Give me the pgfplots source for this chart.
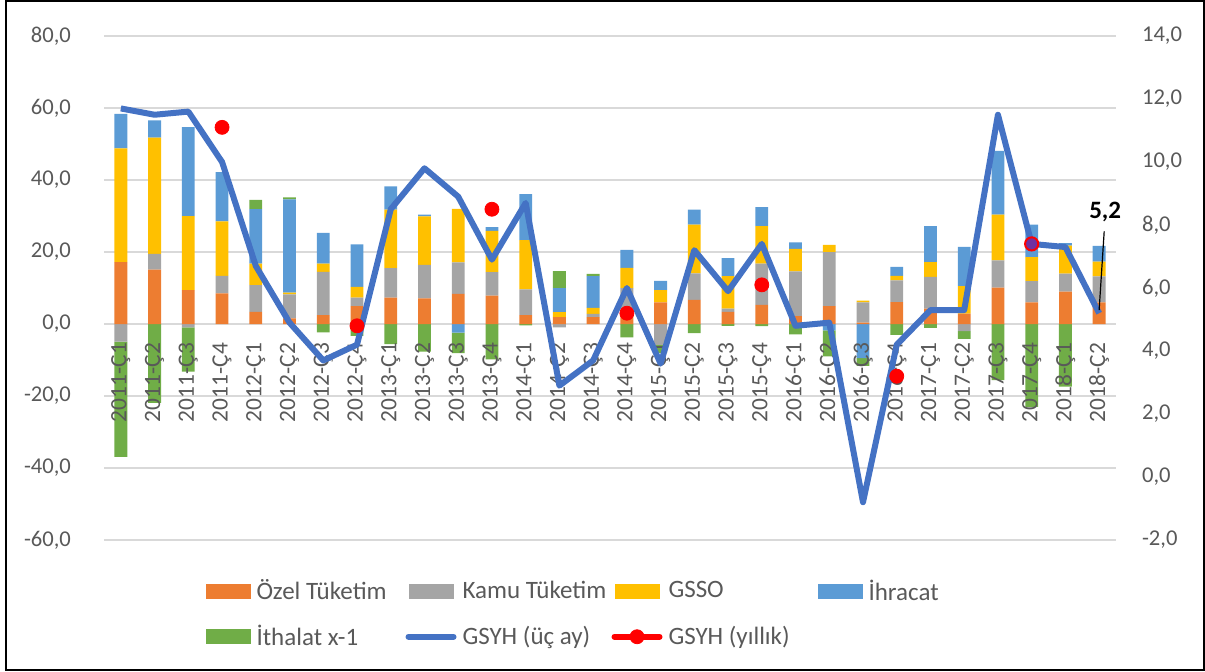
\documentclass[border=0pt]{standalone}
\usepackage{fontspec}
\setmainfont{Carlito}
\usepackage{pgfplots}
\usepackage{pgfplotstable}
\pgfplotsset{compat=1.18}
\definecolor{cOz}{HTML}{ED7D31}
\definecolor{cKamu}{HTML}{A5A5A5}
\definecolor{cGsso}{HTML}{FFC000}
\definecolor{cIhr}{HTML}{5B9BD5}
\definecolor{cIth}{HTML}{70AD47}
\definecolor{cLine}{HTML}{4472C4}
\definecolor{cGrid}{HTML}{D9D9D9}
\definecolor{cTxt}{HTML}{595959}
\definecolor{cPurple}{HTML}{7030A0}

\pgfplotstableread{
x oz kamu gsso ihr ith
0 17.2 -4.9 31.6 9.6 -32.0
1 15.1 4.4 32.3 4.8 -21.9
2 9.4 -0.9 20.6 24.7 -12.3
3 8.5 4.9 15.1 13.7 0
4 3.4 7.4 6.0 15.1 2.6
5 1.6 6.6 0.5 25.9 0.6
6 2.5 12.0 2.3 8.5 -2.3
7 5.0 2.3 3.0 11.8 -3.3
8 7.3 8.2 16.3 6.4 -5.6
9 7.1 9.3 13.5 0.5 -7.7
10 8.4 8.7 14.9 -2.4 -5.7
11 7.9 6.5 11.5 1.0 -9.8
12 2.5 7.1 13.7 12.8 -0.4
13 1.9 -0.9 1.4 6.7 4.7
14 1.9 0.9 1.7 8.8 0.6
15 4.0 6.0 5.6 5.0 -3.7
16 6.0 -5.8 3.4 2.6 -2.3
17 6.7 7.4 13.5 4.2 -2.5
18 3.4 0.9 9.0 5.0 -0.5
19 5.3 11.5 10.4 5.3 -0.6
20 2.2 12.4 6.3 1.8 -2.9
21 5.0 15.0 2.0 -1.8 -7.2
22 0.4 5.6 0.5 -9.5 -2.1
23 6.1 6.0 1.3 2.5 -3.0
24 4.3 8.8 4.1 10.0 -1.1
25 2.9 -2.0 7.6 10.9 -2.1
26 10.1 7.6 12.7 17.7 -15.6
27 6.0 5.9 6.7 9.0 -23.0
28 9.0 5.0 7.8 0.7 -17.4
29 6.0 7.2 4.1 4.4 0
}\bars

\pgfplotstableread{
x y
0 11.7
1 11.5
2 11.6
3 10.0
4 6.7
5 4.9
6 3.7
7 4.2
8 8.5
9 9.8
10 8.9
11 6.9
12 8.7
13 2.9
14 3.7
15 6.0
16 3.6
17 7.2
18 5.9
19 7.4
20 4.8
21 4.9
22 -0.8
23 4.2
24 5.3
25 5.3
26 11.5
27 7.4
28 7.3
29 5.2
}\quarterly

\pgfplotstableread{
x y
3 11.1
7 4.8
11 8.5
15 5.2
19 6.1
23 3.2
}\annual

\pgfplotsset{
  base/.style={scale only axis, width=506pt, height=252pt,
    at={(52pt,65.5pt)}, anchor=south west,
    xmin=-0.5, xmax=29.5, ymin=-60, ymax=80, major tick length=0pt},
  numfmt/.style={/pgf/number format/.cd, fixed, fixed zerofill, precision=1, use comma, assume math mode=true},
  barleg/.style={legend image code/.code={\fill[##1] (0pt,-3.75pt) rectangle (22.5pt,3.75pt);}},
}

\begin{document}
\begin{tikzpicture}
\path[use as bounding box] (0,0) rectangle (602.5pt,335.5pt);
\draw[black, line width=1pt] (3pt,0.5pt) rectangle (602pt,335pt);

% axis 1: grid, left ticks, negative bars
\begin{axis}[base, ybar stacked, bar width=0.38,
  axis x line=none, axis y line*=left, y axis line style={draw=none},
  ytick={-60,-40,...,80}, ymajorgrids, grid style={draw=cGrid, line width=0.75pt},
  yticklabel style={font=\fontsize{11.3}{13}\selectfont, text=cTxt, xshift=-13pt, numfmt}]
\addplot[fill=cOz, draw=none] table[x=x, y expr={min(\thisrow{oz},0)}] {\bars};
\addplot[fill=cKamu, draw=none] table[x=x, y expr={min(\thisrow{kamu},0)}] {\bars};
\addplot[fill=cGsso, draw=none] table[x=x, y expr={min(\thisrow{gsso},0)}] {\bars};
\addplot[fill=cIhr, draw=none] table[x=x, y expr={min(\thisrow{ihr},0)}] {\bars};
\addplot[fill=cIth, draw=none] table[x=x, y expr={min(\thisrow{ith},0)}] {\bars};
\end{axis}

% axis 2: positive bars + legend
\begin{axis}[base, ybar stacked, bar width=0.38, hide axis,
  legend columns=4, legend cell align=left,
  legend style={at={(0.094,-0.062)}, anchor=north west, draw=none, fill=none,
    font=\fontsize{12.5}{14}\selectfont, text=cTxt, row sep=7pt,
    /tikz/every odd column/.style={column sep=1pt}}]
\addplot[fill=cOz, draw=none, barleg] table[x=x, y expr={max(\thisrow{oz},0)}] {\bars};
\addlegendentry{\makebox[72.5pt][l]{Özel Tüketim}}
\addplot[fill=cKamu, draw=none, barleg] table[x=x, y expr={max(\thisrow{kamu},0)}] {\bars};
\addlegendentry{\makebox[72.5pt][l]{Kamu Tüketim}}
\addplot[fill=cGsso, draw=none, barleg] table[x=x, y expr={max(\thisrow{gsso},0)}] {\bars};
\addlegendentry{\makebox[72.5pt][l]{GSSO}}
\addplot[fill=cIhr, draw=none, barleg] table[x=x, y expr={max(\thisrow{ihr},0)}] {\bars};
\addlegendentry{\makebox[72.5pt][l]{İhracat}}
\addplot[fill=cIth, draw=none, barleg] table[x=x, y expr={max(\thisrow{ith},0)}] {\bars};
\addlegendentry{\makebox[72.5pt][l]{İthalat x-1}}
\addlegendimage{legend image code/.code={\draw[cLine, line width=3pt, line cap=round] (0pt,0pt) -- (22.5pt,0pt);}}
\addlegendentry{\makebox[72.5pt][l]{GSYH (üç ay)}}
\addlegendimage{legend image code/.code={\draw[red, line width=3pt, line cap=round] (0pt,0pt) -- (22.5pt,0pt); \fill[red] (11.25pt,0pt) circle (3.5pt);}}
\addlegendentry{\makebox[72.5pt][l]{GSYH (yıllık)}}
\end{axis}

% axis 3: category labels
\begin{axis}[base, axis y line=none, axis x line=middle, x axis line style={draw=none},
  xtick={0,...,29},
  xticklabels={2011-Ç1,2011-Ç2,2011-Ç3,2011-Ç4,2012-Ç1,2012-Ç2,2012-Ç3,2012-Ç4,2013-Ç1,2013-Ç2,2013-Ç3,2013-Ç4,2014-Ç1,2014-Ç2,2014-Ç3,2014-Ç4,2015-Ç1,2015-Ç2,2015-Ç3,2015-Ç4,2016-Ç1,2016-Ç2,2016-Ç3,2016-Ç4,2017-Ç1,2017-Ç2,2017-Ç3,2017-Ç4,2018-Ç1,2018-Ç2},
  xticklabel style={rotate=90, anchor=east, font=\fontsize{11.7}{13}\selectfont, text=cTxt},
  xticklabel shift=6pt]
\addplot[draw=none, forget plot] coordinates {(0,0)};
\end{axis}

% axis 4: right axis, GDP lines
\begin{axis}[scale only axis, width=506pt, height=252pt,
  at={(52pt,65.5pt)}, anchor=south west,
  xmin=-0.5, xmax=29.5, ymin=-2, ymax=14, major tick length=0pt,
  axis x line=none, axis y line*=right, y axis line style={draw=none},
  ytick={-2,0,...,14},
  yticklabel style={font=\fontsize{11.3}{13}\selectfont, text=cTxt, xshift=9.5pt, numfmt},
  clip=false]
\addplot[cLine, line width=3pt, line join=round, no marks] table[x=x,y=y] {\quarterly};
\addplot[only marks, mark=*, mark size=3.5pt, red, mark options={fill=red, draw=red}] table[x=x,y=y] {\annual};
\addplot[only marks, mark=*, mark size=3.3pt, mark options={fill=cPurple, draw=red, line width=1pt}] coordinates {(27,7.4)};
\draw[black, line width=0.6pt] (axis cs:29.15,7.8) -- (axis cs:29.0,5.3);
\node[font=\bfseries\fontsize{12.5}{14}\selectfont, text=black] at (axis cs:29.18,8.42) {5,2};
\end{axis}
\end{tikzpicture}
\end{document}
